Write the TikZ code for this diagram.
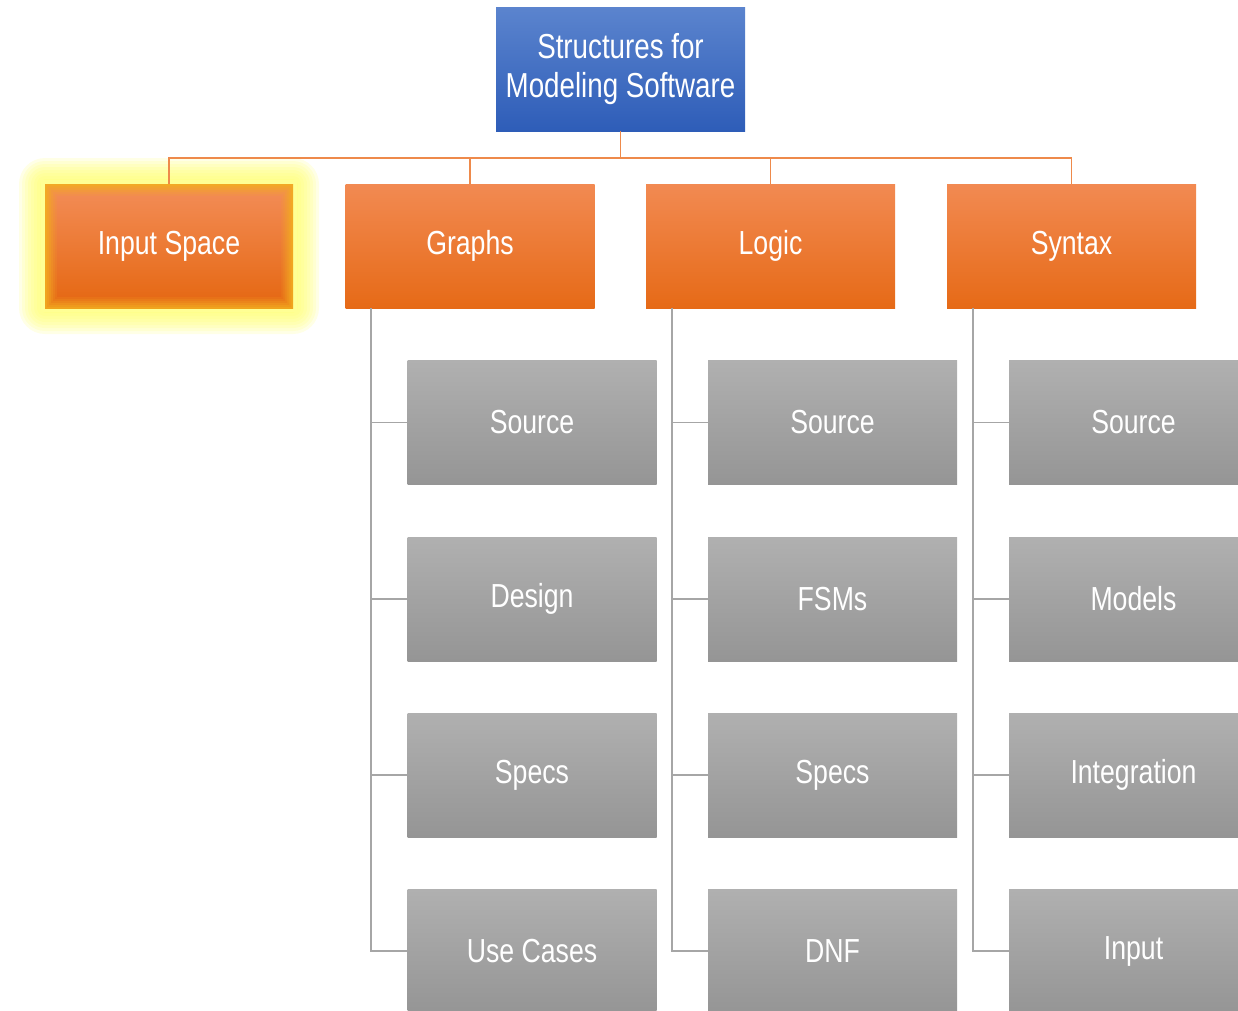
\documentclass[tikz,border=0pt]{standalone}
\usepackage{fontspec}
\setmainfont{Liberation Sans}[FakeStretch=0.8]
\definecolor{bluetop}{HTML}{5B84CE}
\definecolor{bluebot}{HTML}{2E5DB8}
\definecolor{ortop}{HTML}{F28A52}
\definecolor{orbot}{HTML}{E66A17}
\definecolor{grtop}{HTML}{B0B0B0}
\definecolor{grbot}{HTML}{959595}
\definecolor{orline}{HTML}{EE8A4B}
\definecolor{grline}{HTML}{A6A6A6}
\definecolor{glowc}{HTML}{FFFF66}
\definecolor{goldc}{HTML}{F2AE1E}
\tikzset{
  box/.style={minimum width=186.75pt, minimum height=93pt, inner sep=0pt, text=white,
    font=\fontsize{25}{28.5}\selectfont, align=center},
  topbox/.style={box, font=\fontsize{26}{29}\selectfont, shading=axis, top color=bluetop, bottom color=bluebot},
  levelbox/.style={box, shading=axis, top color=ortop, bottom color=orbot},
  leafbox/.style={box, shading=axis, top color=grtop, bottom color=grbot},
  orconn/.style={draw=orline, line width=1.3pt},
  grconn/.style={draw=grline, line width=1.2pt},
}
\begin{document}
\begin{tikzpicture}[x=0.75pt,y=-0.75pt]
\useasboundingbox (0,0) rectangle (1238,1010);
% glow behind Input Space
\foreach \d in {26,23,20,17,14,11,8,5}{
  \fill[glowc, opacity=0.16, rounded corners=\d*0.75pt] (45-\d,184-\d) rectangle (293+\d,308+\d);
}
\fill[glowc!70!white] (41,180) rectangle (297,312);
% top
\node[topbox] (top) at (620.5,69) {Structures for\\Modeling Software};
% level: Input Space with soft golden rim
\foreach \d/\p in {0/85,2/70,4/55,6/40,8/25,10/12,12/0}{
  \shade[top color=goldc!\p!ortop, bottom color=goldc!\p!orbot] (45+\d,184+\d) rectangle (293-\d,308-\d);
}
\node[box] (inp) at (169,246) {Input Space};
\node[levelbox] (graphs) at (470,246) {Graphs};
\node[levelbox] (logic) at (770.5,246) {Logic};
\node[levelbox] (syntax) at (1071.5,246) {Syntax};
% leaves
\node[leafbox] (g1) at (532,422.5) {Source};
\node[leafbox] (g2) at (532,599) {Design};
\node[leafbox] (g3) at (532,775) {Specs};
\node[leafbox] (g4) at (532,951) {Use Cases};
\node[leafbox] (l1) at (832.5,422.5) {Source};
\node[leafbox] (l2) at (832.5,599) {FSMs};
\node[leafbox] (l3) at (832.5,775) {Specs};
\node[leafbox] (l4) at (832.5,951) {DNF};
\node[leafbox] (s1) at (1133.5,422.5) {Source};
\node[leafbox] (s2) at (1133.5,599) {Models};
\node[leafbox] (s3) at (1133.5,775) {Integration};
\node[leafbox] (s4) at (1133.5,951) {Input};
% orange connectors
\coordinate (bus) at (620.5,158);
\foreach \n in {inp,graphs,logic,syntax}{
  \draw[orconn] (top.south) -- (bus) -| (\n.north);
}
% grey connectors
\foreach \p/\c in {graphs/g,logic/l,syntax/s}{
  \foreach \i in {1,2,3,4}{
    \draw[grconn] ([xshift=19.5pt]\p.south west) |- (\c\i.west);
  }
}
\end{tikzpicture}
\end{document}
